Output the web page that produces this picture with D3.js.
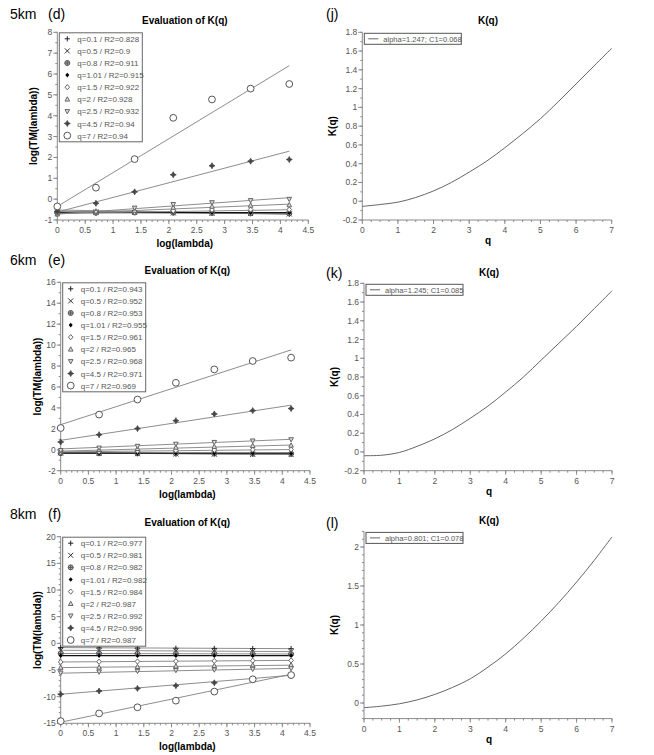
<!DOCTYPE html>
<html><head><meta charset="utf-8">
<script src="https://cdn.jsdelivr.net/npm/d3@7"></script>
<style>
body{margin:0;background:#fff;}
svg{display:block;font-family:Arial,"Liberation Sans",sans-serif;}
</style></head>
<body>
<svg id="c" width="654" height="755"></svg>
<script>
// ---------- DATA ----------
const logLambda = [0, 0.693, 1.386, 2.079, 2.773, 3.466, 4.159];
const qValues = [0.1, 0.5, 0.8, 1.01, 1.5, 2, 2.5, 4.5, 7];

const r2_5km = [0.828, 0.9, 0.911, 0.915, 0.922, 0.928, 0.932, 0.94, 0.94];
const r2_6km = [0.943, 0.952, 0.953, 0.955, 0.961, 0.965, 0.968, 0.971, 0.969];
const r2_8km = [0.977, 0.981, 0.982, 0.982, 0.984, 0.987, 0.992, 0.996, 0.987];

// log(TM(lambda)) points, one row per q
const tm5km = [
  [-0.52, -0.58, -0.62, -0.66, -0.68, -0.70, -0.73],
  [-0.58, -0.62, -0.64, -0.66, -0.68, -0.69, -0.71],
  [-0.63, -0.64, -0.64, -0.65, -0.66, -0.67, -0.68],
  [-0.66, -0.66, -0.64, -0.63, -0.64, -0.65, -0.65],
  [-0.70, -0.68, -0.62, -0.56, -0.52, -0.50, -0.50],
  [-0.72, -0.66, -0.55, -0.40, -0.35, -0.30, -0.28],
  [-0.72, -0.62, -0.42, -0.25, -0.16, -0.06, 0.00],
  [-0.60, -0.20, 0.35, 1.17, 1.60, 1.82, 1.90],
  [-0.35, 0.55, 1.92, 3.90, 4.78, 5.30, 5.52]
];
// fitted line values at log(lambda)=0 and 4.159
const fit5km = [
  [-0.52, -0.73], [-0.58, -0.70], [-0.62, -0.68], [-0.65, -0.65], [-0.68, -0.51],
  [-0.70, -0.24], [-0.72, 0.07], [-0.62, 2.30], [-0.35, 6.40]
];

const tm6km = [
  [-0.28, -0.32, -0.35, -0.38, -0.40, -0.43, -0.45],
  [-0.30, -0.35, -0.38, -0.40, -0.42, -0.44, -0.46],
  [-0.33, -0.34, -0.35, -0.36, -0.36, -0.37, -0.38],
  [-0.32, -0.33, -0.34, -0.33, -0.34, -0.34, -0.35],
  [-0.22, -0.16, -0.10, -0.05, -0.02, 0.00, 0.02],
  [-0.10, 0.00, 0.10, 0.22, 0.30, 0.38, 0.42],
  [-0.05, 0.18, 0.35, 0.55, 0.72, 0.86, 0.98],
  [0.74, 1.44, 2.02, 2.78, 3.42, 3.74, 3.94],
  [2.08, 3.36, 4.80, 6.40, 7.68, 8.48, 8.80]
];
const fit6km = [
  [-0.28, -0.45], [-0.30, -0.45], [-0.33, -0.38], [-0.32, -0.32], [-0.20, 0.02],
  [-0.13, 0.45], [0.08, 1.00], [0.90, 4.26], [2.40, 9.54]
];

const tm8km = [
  [-0.80, -0.85, -0.88, -0.92, -0.95, -0.98, -1.00],
  [-1.30, -1.35, -1.40, -1.45, -1.48, -1.52, -1.55],
  [-1.90, -1.92, -1.95, -1.96, -1.98, -2.00, -2.02],
  [-2.30, -2.30, -2.32, -2.30, -2.30, -2.32, -2.30],
  [-3.50, -3.45, -3.40, -3.35, -3.30, -3.25, -3.20],
  [-4.55, -4.50, -4.40, -4.30, -4.20, -4.10, -4.05],
  [-5.55, -5.35, -5.20, -5.05, -4.95, -4.82, -4.70],
  [-9.55, -8.95, -8.45, -7.95, -7.40, -6.80, -6.10],
  [-14.60, -13.15, -12.00, -10.75, -9.05, -6.75, -5.95]
];
const fit8km = [
  [-0.80, -1.00], [-1.30, -1.55], [-1.90, -2.00], [-2.30, -2.30], [-3.50, -3.20],
  [-4.55, -4.10], [-5.60, -4.70], [-9.55, -6.00], [-14.80, -5.80]
];

// K(q) curves
const qGrid = [0, 0.5, 1, 1.5, 2, 2.5, 3, 3.5, 4, 4.5, 5, 5.5, 6, 6.5, 7];
const kq5km = [-0.055, -0.035, -0.01, 0.04, 0.11, 0.20, 0.31, 0.43, 0.57, 0.72, 0.88, 1.06, 1.25, 1.44, 1.63];
const kq6km = [-0.04, -0.035, -0.005, 0.06, 0.14, 0.24, 0.36, 0.49, 0.64, 0.80, 0.98, 1.16, 1.34, 1.53, 1.72];
const kq8km = [-0.06, -0.04, -0.01, 0.04, 0.11, 0.20, 0.31, 0.46, 0.63, 0.83, 1.05, 1.29, 1.55, 1.83, 2.13];
const kqLegend = ["alpha=1.247; C1=0.068", "alpha=1.245; C1=0.085", "alpha=0.801; C1=0.078"];

const rowLabels = ["5km", "6km", "8km"];
const leftTags = ["(d)", "(e)", "(f)"];
const rightTags = ["(j)", "(k)", "(l)"];

// ---------- DRAW ----------
const svg = d3.select("#c");
const AX = "#8a8a8a", TXT = "#555";

function axes(g, x, y, xTicks, xMinor, yTicks, yMinor, xFmt, yFmt) {
  const [x0, x1] = x.range(), [yb, yt] = y.range();
  g.append("line").attr("x1", x0).attr("x2", x1).attr("y1", yb).attr("y2", yb).attr("stroke", AX);
  g.append("line").attr("x1", x0).attr("x2", x0).attr("y1", yb).attr("y2", yt).attr("stroke", AX);
  xMinor.forEach(v => g.append("line").attr("x1", x(v)).attr("x2", x(v)).attr("y1", yb).attr("y2", yb + 2).attr("stroke", AX));
  yMinor.forEach(v => g.append("line").attr("x1", x0 - 2).attr("x2", x0).attr("y1", y(v)).attr("y2", y(v)).attr("stroke", AX));
  xTicks.forEach(v => {
    g.append("line").attr("x1", x(v)).attr("x2", x(v)).attr("y1", yb).attr("y2", yb + 4).attr("stroke", AX);
    g.append("text").attr("x", x(v)).attr("y", yb + 13).attr("text-anchor", "middle")
      .attr("font-size", 8.5).attr("fill", TXT).text(xFmt(v));
  });
  yTicks.forEach(v => {
    g.append("line").attr("x1", x0 - 4).attr("x2", x0).attr("y1", y(v)).attr("y2", y(v)).attr("stroke", AX);
    g.append("text").attr("x", x0 - 5).attr("y", y(v) + 3).attr("text-anchor", "end")
      .attr("font-size", 8.5).attr("fill", TXT).text(yFmt(v));
  });
}
function range(a, b, s) { const r = []; for (let i = 0; a + i * s <= b + 1e-9; i++) r.push(+(a + i * s).toFixed(4)); return r; }
const fmt = v => String(+v.toFixed(2));

// marker painters
const markers = [
  (g) => g.append("path").attr("d", "M-2.6,0H2.6M0,-2.6V2.6").attr("stroke", "#222").attr("fill", "none"),
  (g) => g.append("path").attr("d", "M-2.5,-2.5L2.5,2.5M-2.5,2.5L2.5,-2.5").attr("stroke", "#333").attr("fill", "none"),
  (g) => { g.append("circle").attr("r", 2.5).attr("stroke", "#555").attr("fill", "#bbb");
           g.append("path").attr("d", "M-2.5,0H2.5M0,-2.5V2.5").attr("stroke", "#555"); },
  (g) => g.append("path").attr("d", "M0,-2.3L2,0L0,2.3L-2,0Z").attr("fill", "#000"),
  (g) => g.append("path").attr("d", "M0,-2.6L2.3,0L0,2.6L-2.3,0Z").attr("stroke", "#666").attr("fill", "#fff"),
  (g) => g.append("path").attr("d", "M0,-2.5L2.3,1.8L-2.3,1.8Z").attr("stroke", "#666").attr("fill", "#ddd"),
  (g) => g.append("path").attr("d", "M0,2.5L2.3,-1.8L-2.3,-1.8Z").attr("stroke", "#666").attr("fill", "#ddd"),
  (g) => g.append("path").attr("d", "M0,-3L1,-1L3,0L1,1L0,3L-1,1L-3,0L-1,-1Z").attr("fill", "#444").attr("stroke", "#444").attr("stroke-width", 0.8),
  (g) => g.append("circle").attr("r", 3.4).attr("stroke", "#555").attr("fill", "#fff")
];

function leftPanel(cfg) {
  const g = svg.append("g");
  const x = d3.scaleLinear().domain([0, 4.5]).range([cfg.x0, cfg.x1]);
  const y = d3.scaleLinear().domain(cfg.ydom).range([cfg.bottom, cfg.top]);
  axes(g, x, y, range(0, 4.5, 0.5), range(0, 4.5, 0.1), cfg.yTicks, cfg.yMinor, fmt, fmt);
  cfg.fit.forEach((f, i) => {
    g.append("line").attr("x1", x(logLambda[0])).attr("x2", x(logLambda[6]))
      .attr("y1", y(f[0])).attr("y2", y(f[1]))
      .attr("stroke", qValues[i] === 1.01 ? "#111" : "#808080").attr("stroke-width", qValues[i] === 1.01 ? 1.2 : 0.9);
  });
  cfg.tm.forEach((row, i) => row.forEach((v, j) => {
    const m = g.append("g").attr("transform", `translate(${x(logLambda[j])},${y(v)})`);
    markers[i](m);
  }));
  const lx = cfg.x0 + 2, ly = cfg.top + 0.5;
  g.append("rect").attr("x", lx).attr("y", ly).attr("width", 83).attr("height", 109)
    .attr("fill", "#fff").attr("stroke", "#666");
  qValues.forEach((q, i) => {
    const yy = ly + 6 + i * 12.1;
    const m = g.append("g").attr("transform", `translate(${lx + 8},${yy})`);
    markers[i](m);
    g.append("text").attr("x", lx + 18).attr("y", yy + 3).attr("font-size", 8).attr("fill", TXT)
      .text(`q=${q} / R2=${cfg.r2[i]}`);
  });
  const cx = (cfg.x0 + cfg.x1) / 2 + 2;
  g.append("text").attr("x", cx).attr("y", cfg.titleY).attr("text-anchor", "middle")
    .attr("font-size", 10).attr("font-weight", "bold").text("Evaluation of K(q)");
  g.append("text").attr("x", cx).attr("y", cfg.bottom + 27).attr("text-anchor", "middle")
    .attr("font-size", 10).attr("font-weight", "bold").text("log(lambda)");
  g.append("text").attr("transform", `translate(${cfg.x0 - 20},${(cfg.top + cfg.bottom) / 2}) rotate(-90)`)
    .attr("text-anchor", "middle").attr("font-size", 10).attr("font-weight", "bold").text("log(TM(lambda))");
  g.append("text").attr("x", 10).attr("y", cfg.rowY).attr("font-size", 14).text(cfg.row);
  g.append("text").attr("x", 48).attr("y", cfg.rowY).attr("font-size", 14).text(cfg.tag);
}

function rightPanel(cfg) {
  const g = svg.append("g");
  const x = d3.scaleLinear().domain([0, 7]).range([cfg.x0, cfg.x1]);
  const y = d3.scaleLinear().domain(cfg.ydom).range([cfg.bottom, cfg.top]);
  axes(g, x, y, range(0, 7, 1), range(0, 7, 0.25), cfg.yTicks, cfg.yMinor, fmt, fmt);
  const line = d3.line().x((d, i) => x(qGrid[i])).y(d => y(d)).curve(d3.curveCatmullRom.alpha(0.5));
  g.append("path").attr("d", line(cfg.k)).attr("fill", "none").attr("stroke", "#666").attr("stroke-width", 1);
  const lx = cfg.x0 + 2, ly = cfg.top + 1;
  g.append("rect").attr("x", lx).attr("y", ly).attr("width", 97).attr("height", 11)
    .attr("fill", "#fff").attr("stroke", "#555");
  g.append("line").attr("x1", lx + 4).attr("x2", lx + 14).attr("y1", ly + 5.5).attr("y2", ly + 5.5).attr("stroke", "#666");
  g.append("text").attr("x", lx + 19).attr("y", ly + 8.5).attr("font-size", 7.5).attr("fill", TXT).text(cfg.legend);
  const cx = (cfg.x0 + cfg.x1) / 2 + 1;
  g.append("text").attr("x", cx).attr("y", cfg.titleY).attr("text-anchor", "middle")
    .attr("font-size", 10).attr("font-weight", "bold").text("K(q)");
  g.append("text").attr("x", cx).attr("y", cfg.bottom + 24).attr("text-anchor", "middle")
    .attr("font-size", 10).attr("font-weight", "bold").text("q");
  g.append("text").attr("transform", `translate(${cfg.x0 - 26},${(cfg.top + cfg.bottom) / 2}) rotate(-90)`)
    .attr("text-anchor", "middle").attr("font-size", 10).attr("font-weight", "bold").text("K(q)");
  g.append("text").attr("x", 326).attr("y", cfg.tagY).attr("font-size", 14).text(cfg.tag);
}

leftPanel({x0: 57.3, x1: 308.3, top: 32.3, bottom: 220, ydom: [-1, 8],
  yTicks: range(-1, 8, 1), yMinor: range(-1, 8, 0.5), tm: tm5km, fit: fit5km, r2: r2_5km,
  titleY: 24, rowY: 19, row: rowLabels[0], tag: leftTags[0]});
leftPanel({x0: 60.7, x1: 310, top: 282.3, bottom: 470.7, ydom: [-2, 16],
  yTicks: range(-2, 16, 2), yMinor: range(-2, 16, 1), tm: tm6km, fit: fit6km, r2: r2_6km,
  titleY: 274, rowY: 265, row: rowLabels[1], tag: leftTags[1]});
leftPanel({x0: 60.7, x1: 310, top: 536.7, bottom: 723.3, ydom: [-15, 20],
  yTicks: range(-15, 20, 5), yMinor: range(-15, 20, 1), tm: tm8km, fit: fit8km, r2: r2_8km,
  titleY: 526, rowY: 519, row: rowLabels[2], tag: leftTags[2]});

rightPanel({x0: 362.3, x1: 611.7, top: 32.3, bottom: 220, ydom: [-0.2, 1.8],
  yTicks: range(-0.2, 1.8, 0.2), yMinor: range(-0.2, 1.8, 0.1), k: kq5km, legend: kqLegend[0],
  titleY: 24, tag: rightTags[0], tagY: 19});
rightPanel({x0: 364, x1: 612, top: 283.3, bottom: 470.7, ydom: [-0.2, 1.8],
  yTicks: range(-0.2, 1.8, 0.2), yMinor: range(-0.2, 1.8, 0.1), k: kq6km, legend: kqLegend[1],
  titleY: 276, tag: rightTags[1], tagY: 278});
rightPanel({x0: 364, x1: 612, top: 531.4, bottom: 718.6, ydom: [-0.2, 2.2],
  yTicks: range(0, 2, 0.5), yMinor: range(-0.2, 2.2, 0.1), k: kq8km, legend: kqLegend[2],
  titleY: 524, tag: rightTags[2], tagY: 528});
</script>
</body></html>
